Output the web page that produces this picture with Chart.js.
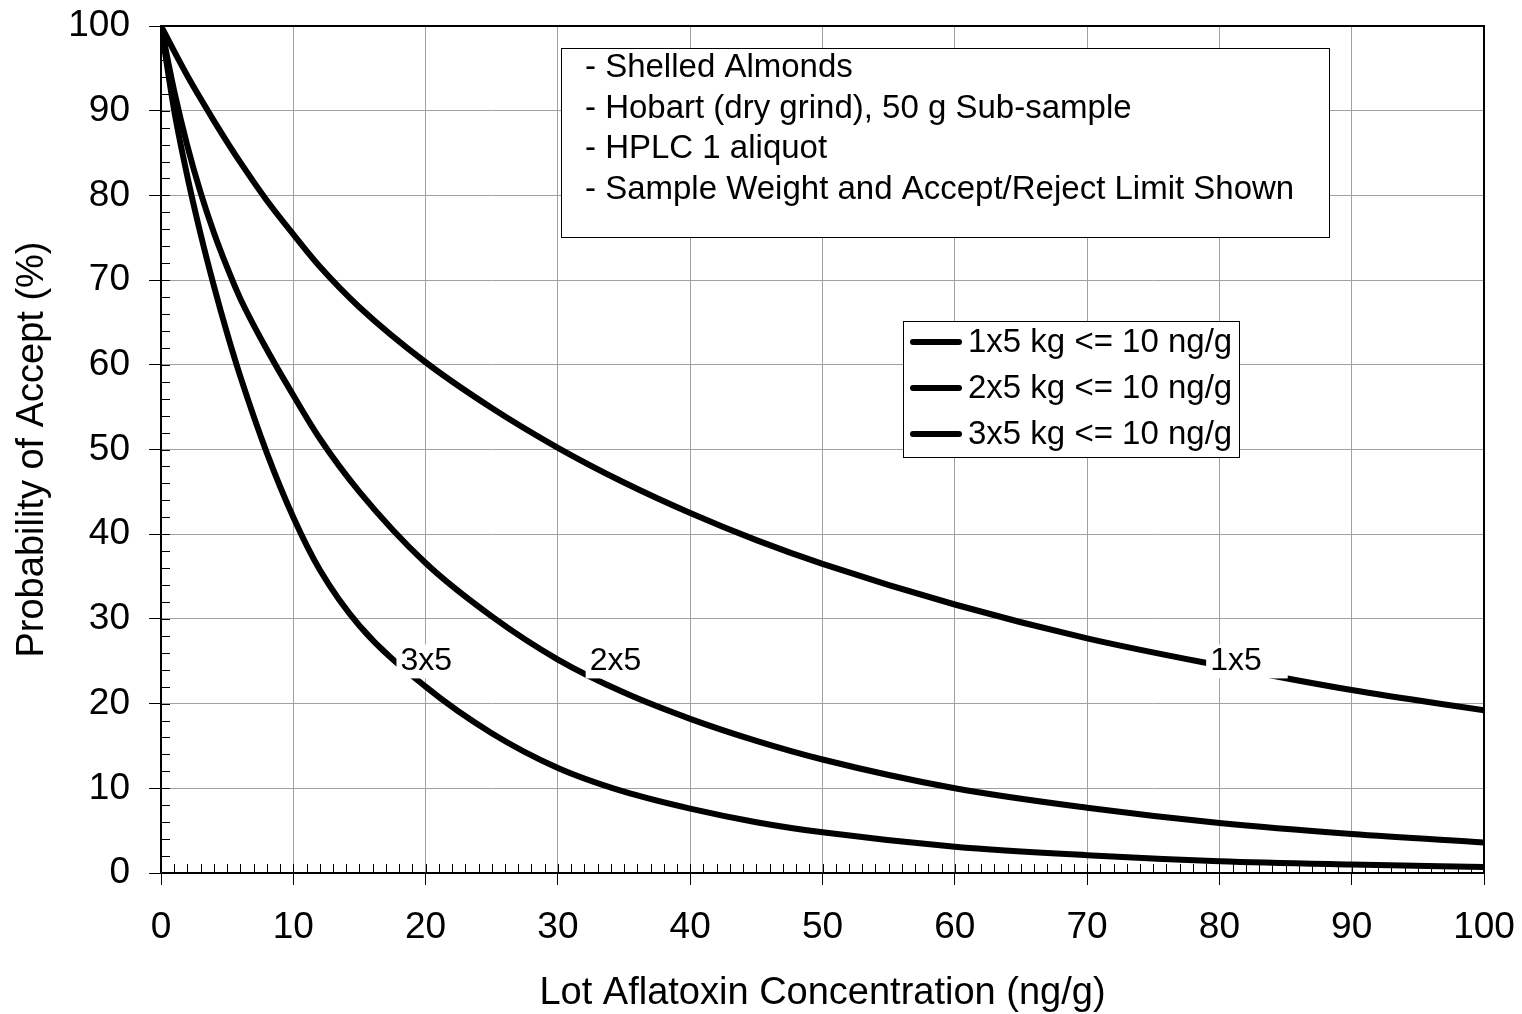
<!DOCTYPE html>
<html>
<head>
<meta charset="utf-8">
<title>Probability of Accept - Shelled Almonds</title>
<script src="https://cdn.jsdelivr.net/npm/chart.js@4.4.1/dist/chart.umd.min.js"></script>
<style>
    html, body { margin: 0; padding: 0; background: #fff; }
    #wrap { width: 1522px; height: 1014px; position: relative; }
</style>
</head>
<body>
<div id="wrap"><canvas id="occChart" width="1522" height="1014"></canvas></div>
<script>
/* ---- data ---- */
const concentration = [0, 1, 2, 3, 4, 5, 6, 8, 10, 12, 15, 20, 25, 30, 35, 40, 45, 50, 60, 70, 80, 90, 100];
const accept1x5 = [100, 97.0, 94.1, 91.4, 88.8, 86.3, 83.9, 79.4, 75.4, 71.6, 66.8, 60.3, 54.9, 50.2, 46.1, 42.5, 39.3, 36.5, 31.7, 27.7, 24.5, 21.6, 19.2];
const accept2x5 = [100, 92.3, 85.8, 80.3, 75.6, 71.5, 67.8, 61.8, 56.4, 51.3, 45.0, 36.6, 30.3, 25.2, 21.3, 18.2, 15.6, 13.4, 10.0, 7.7, 5.9, 4.6, 3.6];
const accept3x5 = [100, 90.0, 82.2, 75.4, 69.3, 63.7, 58.6, 49.6, 42.0, 35.8, 29.2, 22.0, 16.5, 12.4, 9.6, 7.6, 6.0, 4.8, 3.1, 2.1, 1.4, 1.0, 0.7];

const seriesNames = ['1x5 kg <= 10 ng/g', '2x5 kg <= 10 ng/g', '3x5 kg <= 10 ng/g'];
const curveTags = ['1x5', '2x5', '3x5'];
const curveTagX = [79.3, 32.4, 18.1];
const curveTagY = [25.1, 25.1, 25.1];

const noteLines = [
    '- Shelled Almonds',
    '- Hobart (dry grind), 50 g Sub-sample',
    '- HPLC 1 aliquot',
    '- Sample Weight and Accept/Reject Limit Shown'
];

const FONT = '"Liberation Sans", Arial, Helvetica, sans-serif';

function toPoints(ys) {
    return concentration.map((x, i) => ({ x: x, y: ys[i] }));
}

// minor ticks, top/right frame
const framePlugin = {
    id: 'frame',
    afterDraw(chart) {
        const { ctx, chartArea: a } = chart;
        const xs = chart.scales.x, ys = chart.scales.y;
        ctx.save();
        ctx.strokeStyle = '#000';
        ctx.lineWidth = 1;
        ctx.beginPath();
        for (let v = 1; v < 100; v++) {
            const px = Math.round(xs.getPixelForValue(v)) + 0.5;
            ctx.moveTo(px, a.bottom);
            ctx.lineTo(px, a.bottom - 9);
        }
        for (let v = 2; v < 100; v += 2) {
            const py = Math.round(ys.getPixelForValue(v)) + 0.5;
            ctx.moveTo(a.left, py);
            ctx.lineTo(a.left + 9, py);
        }
        ctx.stroke();
        ctx.lineWidth = 2;
        ctx.strokeRect(a.left, a.top, a.right - a.left, a.bottom - a.top);
        ctx.restore();
    }
};

// legend box, note box and the tags sitting on the curves
const boxesPlugin = {
    id: 'boxes',
    afterDatasetsDraw(chart) {
        const { ctx } = chart;
        const xs = chart.scales.x, ys = chart.scales.y;
        ctx.save();

        // curve tags
        ctx.font = '32px ' + FONT;
        ctx.textBaseline = 'middle';
        ctx.textAlign = 'left';
        curveTags.forEach((t, i) => {
            const px = xs.getPixelForValue(curveTagX[i]);
            const py = ys.getPixelForValue(curveTagY[i]);
            const w = ctx.measureText(t).width;
            ctx.fillStyle = '#fff';
            ctx.fillRect(px - 4, py - 16, w + 30, 34);
            ctx.fillStyle = '#000';
            ctx.fillText(t, px, py + 1);
        });

        // note box
        ctx.font = '33px ' + FONT;
        ctx.fillStyle = '#fff';
        ctx.fillRect(561, 48, 768, 189);
        ctx.strokeStyle = '#000';
        ctx.lineWidth = 1;
        ctx.strokeRect(561.5, 48.5, 768, 189);
        ctx.fillStyle = '#000';
        noteLines.forEach((line, i) => {
            ctx.fillText(line, 585, 68 + i * 40.5);
        });

        // legend
        ctx.fillStyle = '#fff';
        ctx.fillRect(903, 321, 336, 136);
        ctx.strokeRect(903.5, 321.5, 336, 136);
        chart.data.datasets.forEach((ds, i) => {
            const cy = 342 + i * 46;
            ctx.strokeStyle = ds.borderColor;
            ctx.lineWidth = 6;
            ctx.lineCap = 'round';
            ctx.beginPath();
            ctx.moveTo(913, cy);
            ctx.lineTo(959, cy);
            ctx.stroke();
            ctx.fillStyle = '#000';
            ctx.fillText(ds.label, 968, cy + 1);
        });
        ctx.restore();
    }
};

const lineStyle = {
    borderColor: '#000',
    borderWidth: 6,
    pointRadius: 0,
    fill: false,
    cubicInterpolationMode: 'monotone'
};

new Chart(document.getElementById('occChart'), {
    type: 'line',
    data: {
        datasets: [
            { label: seriesNames[0], data: toPoints(accept1x5), ...lineStyle },
            { label: seriesNames[1], data: toPoints(accept2x5), ...lineStyle },
            { label: seriesNames[2], data: toPoints(accept3x5), ...lineStyle }
        ]
    },
    options: {
        responsive: false,
        animation: false,
        layout: { padding: { left: 0, right: 38, top: 26, bottom: 0 } },
        plugins: { legend: { display: false }, tooltip: { enabled: false } },
        scales: {
            x: {
                type: 'linear',
                min: 0, max: 100,
                afterFit: s => { s.height = 141; s.paddingLeft = 0; s.paddingRight = 0; },
                ticks: { stepSize: 10, color: '#000', padding: 21, font: { family: FONT, size: 37 }, maxRotation: 0 },
                grid: { color: '#a0a0a0', lineWidth: 1, tickLength: 12, tickColor: '#000' },
                border: { color: '#000', width: 2 },
                title: {
                    display: true, text: 'Lot Aflatoxin Concentration (ng/g)', color: '#000',
                    font: { family: FONT, size: 38, lineHeight: 1.1 }, padding: { top: 0, bottom: 0 }
                }
            },
            y: {
                min: 0, max: 100,
                afterFit: s => { s.width = 161; s.paddingTop = 0; s.paddingBottom = 0; },
                ticks: { stepSize: 10, color: '#000', padding: 19, font: { family: FONT, size: 37 } },
                grid: { color: '#a0a0a0', lineWidth: 1, tickLength: 12, tickColor: '#000' },
                border: { color: '#000', width: 2 },
                title: {
                    display: true, text: 'Probability of Accept (%)', color: '#000',
                    font: { family: FONT, size: 38, lineHeight: 1.1 }, padding: { top: 12, bottom: 0 }
                }
            }
        }
    },
    plugins: [framePlugin, boxesPlugin]
});
</script>
</body>
</html>
